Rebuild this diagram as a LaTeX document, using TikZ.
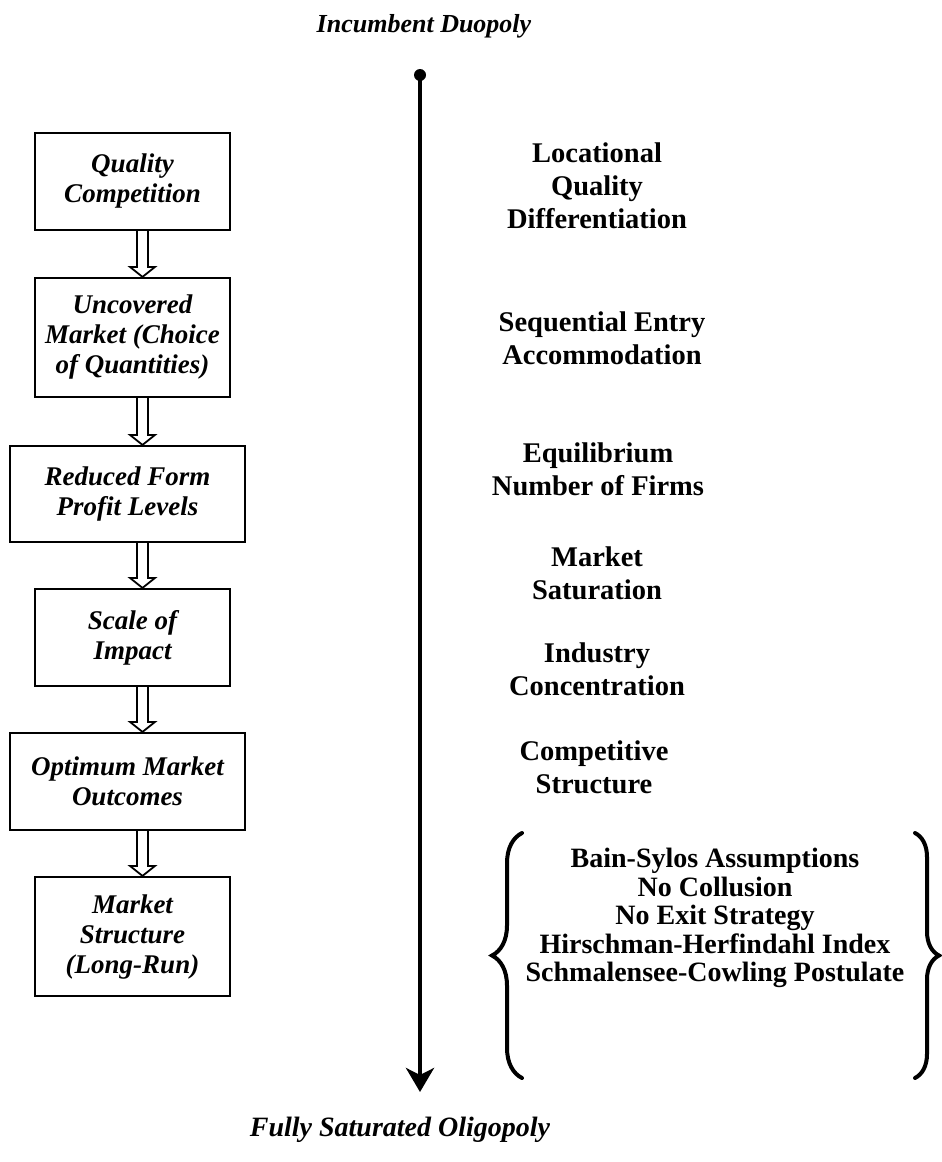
\documentclass[tikz,border=0pt]{standalone}
\usepackage{fontspec}
\setmainfont{Liberation Serif}
\usetikzlibrary{arrows.meta,calc,decorations.pathreplacing}
\newcommand\hollowarrow[2]{%
  \draw[hollowarr] ($(#1.south -| ax)+(-5.5,0)$) -- ($(#2.north -| ax)+(-5.5,-10)$)
    -- ($(#2.north -| ax)+(-12.5,-10)$) -- (#2.north -| ax)
    -- ($(#2.north -| ax)+(12.5,-10)$) -- ($(#2.north -| ax)+(5.5,-10)$)
    -- ($(#1.south -| ax)+(5.5,0)$);}
\begin{document}
\begin{tikzpicture}[x=1pt,y=-1pt,
  box/.style={draw, line width=2.2pt, align=center, font=\fontsize{27}{30}\selectfont\bfseries\itshape, inner sep=0pt, minimum width=195pt},
  widebox/.style={box, minimum width=235pt},
  lab/.style={align=center, font=\fontsize{28.5}{33}\selectfont\bfseries, inner sep=0pt},
  listlab/.style={align=center, font=\fontsize{28}{28.5}\selectfont\bfseries, inner sep=0pt},
  ttl/.style={font=\fontsize{26}{29}\selectfont\bfseries\itshape, inner sep=0pt},
  hollowarr/.style={line width=1.8pt, line join=miter},
  brc/.style={line width=4pt, line cap=round, decorate, decoration={brace, amplitude=#1}}
]
\useasboundingbox (0,0) rectangle (942,1162);
\node[ttl] (top) at (424,26) {Incumbent Duopoly};
\coordinate (start) at (420,75);
\coordinate (end) at (420,1092);
\fill (start) circle (6pt);
\draw[line width=4.5pt, -{Stealth[length=24pt,width=28pt,inset=7pt]}] (start) -- (end);
\node[ttl, font=\fontsize{28}{30}\selectfont\bfseries\itshape] (bot) at (400,1130) {Fully Saturated Oligopoly};

\node[box, minimum height=97pt] (b1) at (132.5,181.5) {Quality\\Competition};
\node[box, minimum height=119pt] (b2) at (132.5,337.5) {Uncovered\\Market (Choice\\of Quantities)};
\node[widebox, minimum height=96pt] (b3) at (127.5,494) {Reduced Form\\Profit Levels};
\node[box, minimum height=97pt] (b4) at (132.5,637.5) {Scale of\\Impact};
\node[widebox, minimum height=97pt] (b5) at (127.5,781.5) {Optimum Market\\Outcomes};
\node[box, minimum height=119pt] (b6) at (132.5,936.5) {Market\\Structure\\(Long-Run)};

\coordinate (ax) at (142.5,0);
\hollowarrow{b1}{b2}
\hollowarrow{b2}{b3}
\hollowarrow{b3}{b4}
\hollowarrow{b4}{b5}
\hollowarrow{b5}{b6}

\node[lab] (r1) at (597,186) {Locational\\Quality\\Differentiation};
\node[lab] (r2) at (602,338) {Sequential Entry\\Accommodation};
\node[lab] (r3) at (598,469) {Equilibrium\\Number of Firms};
\node[lab] (r4) at (597,573) {Market\\Saturation};
\node[lab] (r5) at (597,669) {Industry\\Concentration};
\node[lab] (r6) at (594,767) {Competitive\\Structure};
\node[listlab] (r7) at (715,918) {Bain-Sylos Assumptions\\No Collusion\\No Exit Strategy\\Hirschman-Herfindahl Index\\Schmalensee-Cowling Postulate};

\coordinate (lb1) at (522,1078);
\coordinate (lb2) at (522,833);
\draw[brc=30pt] (lb1) -- (lb2);
\coordinate (rb1) at (915,833);
\coordinate (rb2) at (915,1078);
\draw[brc=24pt] (rb1) -- (rb2);
\end{tikzpicture}
\end{document}
